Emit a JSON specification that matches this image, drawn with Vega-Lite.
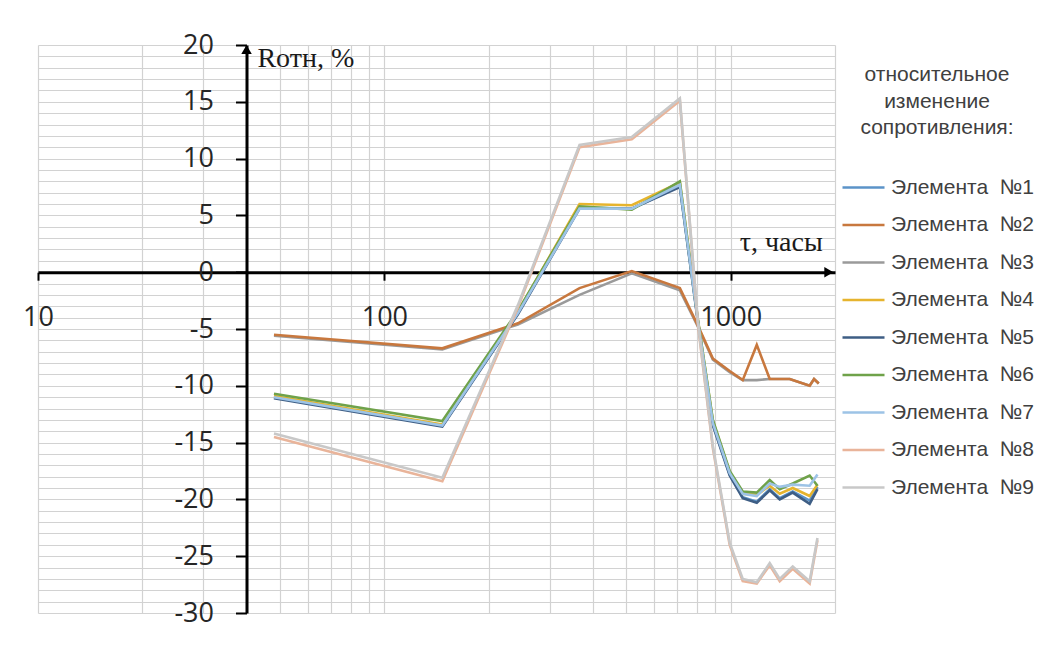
{
 "$schema": "https://vega.github.io/schema/vega-lite/v6.json",
 "width": 797, "height": 568,
 "autosize": {"type": "none"},
 "padding": {"left": 38, "top": 45, "right": 215, "bottom": 44},
 "background": "white",
 "config": {"view": {"stroke": null}},
 "layer": [
  {
   "data": {"values": [
    {"s":"Элемента\u00a0 №3","t":48,"r":-5.6},{"s":"Элемента\u00a0 №3","t":147,"r":-6.8},{"s":"Элемента\u00a0 №3","t":243,"r":-4.6},{"s":"Элемента\u00a0 №3","t":366,"r":-2.0},{"s":"Элемента\u00a0 №3","t":518,"r":-0.1},{"s":"Элемента\u00a0 №3","t":713,"r":-1.6},{"s":"Элемента\u00a0 №3","t":804,"r":-4.8},{"s":"Элемента\u00a0 №3","t":888,"r":-7.7},{"s":"Элемента\u00a0 №3","t":993,"r":-8.8},{"s":"Элемента\u00a0 №3","t":1083,"r":-9.5},{"s":"Элемента\u00a0 №3","t":1189,"r":-9.5},{"s":"Элемента\u00a0 №3","t":1296,"r":-9.4},{"s":"Элемента\u00a0 №3","t":1480,"r":-9.4},{"s":"Элемента\u00a0 №3","t":1690,"r":-10.0},{"s":"Элемента\u00a0 №3","t":1740,"r":-9.4},{"s":"Элемента\u00a0 №3","t":1795,"r":-9.8},
    {"s":"Элемента\u00a0 №1","t":48,"r":-11.0},{"s":"Элемента\u00a0 №1","t":147,"r":-13.5},{"s":"Элемента\u00a0 №1","t":243,"r":-3.6},{"s":"Элемента\u00a0 №1","t":366,"r":5.7},{"s":"Элемента\u00a0 №1","t":518,"r":5.6},{"s":"Элемента\u00a0 №1","t":713,"r":7.6},{"s":"Элемента\u00a0 №1","t":804,"r":-4.3},{"s":"Элемента\u00a0 №1","t":888,"r":-13.3},{"s":"Элемента\u00a0 №1","t":993,"r":-17.8},{"s":"Элемента\u00a0 №1","t":1083,"r":-19.8},{"s":"Элемента\u00a0 №1","t":1189,"r":-20.2},{"s":"Элемента\u00a0 №1","t":1296,"r":-19.1},{"s":"Элемента\u00a0 №1","t":1385,"r":-19.9},{"s":"Элемента\u00a0 №1","t":1510,"r":-19.3},{"s":"Элемента\u00a0 №1","t":1690,"r":-20.1},{"s":"Элемента\u00a0 №1","t":1780,"r":-18.9},
    {"s":"Элемента\u00a0 №2","t":48,"r":-5.5},{"s":"Элемента\u00a0 №2","t":147,"r":-6.7},{"s":"Элемента\u00a0 №2","t":243,"r":-4.5},{"s":"Элемента\u00a0 №2","t":366,"r":-1.4},{"s":"Элемента\u00a0 №2","t":518,"r":0.1},{"s":"Элемента\u00a0 №2","t":713,"r":-1.4},{"s":"Элемента\u00a0 №2","t":804,"r":-4.7},{"s":"Элемента\u00a0 №2","t":888,"r":-7.6},{"s":"Элемента\u00a0 №2","t":993,"r":-8.7},{"s":"Элемента\u00a0 №2","t":1083,"r":-9.5},{"s":"Элемента\u00a0 №2","t":1189,"r":-6.4},{"s":"Элемента\u00a0 №2","t":1296,"r":-9.4},{"s":"Элемента\u00a0 №2","t":1480,"r":-9.4},{"s":"Элемента\u00a0 №2","t":1690,"r":-10.0},{"s":"Элемента\u00a0 №2","t":1740,"r":-9.4},{"s":"Элемента\u00a0 №2","t":1795,"r":-9.8},
    {"s":"Элемента\u00a0 №4","t":48,"r":-10.9},{"s":"Элемента\u00a0 №4","t":147,"r":-13.4},{"s":"Элемента\u00a0 №4","t":243,"r":-3.5},{"s":"Элемента\u00a0 №4","t":366,"r":6.0},{"s":"Элемента\u00a0 №4","t":518,"r":5.9},{"s":"Элемента\u00a0 №4","t":713,"r":7.9},{"s":"Элемента\u00a0 №4","t":804,"r":-4.2},{"s":"Элемента\u00a0 №4","t":888,"r":-13.1},{"s":"Элемента\u00a0 №4","t":993,"r":-17.6},{"s":"Элемента\u00a0 №4","t":1083,"r":-19.5},{"s":"Элемента\u00a0 №4","t":1189,"r":-19.6},{"s":"Элемента\u00a0 №4","t":1296,"r":-18.8},{"s":"Элемента\u00a0 №4","t":1385,"r":-19.5},{"s":"Элемента\u00a0 №4","t":1510,"r":-19.0},{"s":"Элемента\u00a0 №4","t":1690,"r":-19.7},{"s":"Элемента\u00a0 №4","t":1780,"r":-18.7},
    {"s":"Элемента\u00a0 №5","t":48,"r":-11.1},{"s":"Элемента\u00a0 №5","t":147,"r":-13.6},{"s":"Элемента\u00a0 №5","t":243,"r":-3.7},{"s":"Элемента\u00a0 №5","t":366,"r":5.6},{"s":"Элемента\u00a0 №5","t":518,"r":5.6},{"s":"Элемента\u00a0 №5","t":713,"r":7.5},{"s":"Элемента\u00a0 №5","t":804,"r":-4.4},{"s":"Элемента\u00a0 №5","t":888,"r":-13.5},{"s":"Элемента\u00a0 №5","t":993,"r":-17.9},{"s":"Элемента\u00a0 №5","t":1083,"r":-19.9},{"s":"Элемента\u00a0 №5","t":1189,"r":-20.3},{"s":"Элемента\u00a0 №5","t":1296,"r":-19.2},{"s":"Элемента\u00a0 №5","t":1385,"r":-20.0},{"s":"Элемента\u00a0 №5","t":1510,"r":-19.4},{"s":"Элемента\u00a0 №5","t":1690,"r":-20.4},{"s":"Элемента\u00a0 №5","t":1780,"r":-19.1},
    {"s":"Элемента\u00a0 №6","t":48,"r":-10.7},{"s":"Элемента\u00a0 №6","t":147,"r":-13.1},{"s":"Элемента\u00a0 №6","t":243,"r":-3.4},{"s":"Элемента\u00a0 №6","t":366,"r":5.8},{"s":"Элемента\u00a0 №6","t":518,"r":5.5},{"s":"Элемента\u00a0 №6","t":713,"r":8.0},{"s":"Элемента\u00a0 №6","t":804,"r":-4.2},{"s":"Элемента\u00a0 №6","t":888,"r":-13.0},{"s":"Элемента\u00a0 №6","t":993,"r":-17.5},{"s":"Элемента\u00a0 №6","t":1083,"r":-19.3},{"s":"Элемента\u00a0 №6","t":1189,"r":-19.4},{"s":"Элемента\u00a0 №6","t":1296,"r":-18.3},{"s":"Элемента\u00a0 №6","t":1385,"r":-19.1},{"s":"Элемента\u00a0 №6","t":1510,"r":-18.6},{"s":"Элемента\u00a0 №6","t":1690,"r":-17.9},{"s":"Элемента\u00a0 №6","t":1780,"r":-18.8},
    {"s":"Элемента\u00a0 №7","t":48,"r":-11.0},{"s":"Элемента\u00a0 №7","t":147,"r":-13.5},{"s":"Элемента\u00a0 №7","t":243,"r":-3.6},{"s":"Элемента\u00a0 №7","t":366,"r":5.6},{"s":"Элемента\u00a0 №7","t":518,"r":5.6},{"s":"Элемента\u00a0 №7","t":713,"r":7.7},{"s":"Элемента\u00a0 №7","t":804,"r":-4.3},{"s":"Элемента\u00a0 №7","t":888,"r":-13.3},{"s":"Элемента\u00a0 №7","t":993,"r":-17.7},{"s":"Элемента\u00a0 №7","t":1083,"r":-19.5},{"s":"Элемента\u00a0 №7","t":1189,"r":-19.7},{"s":"Элемента\u00a0 №7","t":1296,"r":-18.6},{"s":"Элемента\u00a0 №7","t":1385,"r":-18.9},{"s":"Элемента\u00a0 №7","t":1510,"r":-18.7},{"s":"Элемента\u00a0 №7","t":1690,"r":-18.8},{"s":"Элемента\u00a0 №7","t":1780,"r":-17.8},
    {"s":"Элемента\u00a0 №8","t":48,"r":-14.5},{"s":"Элемента\u00a0 №8","t":147,"r":-18.4},{"s":"Элемента\u00a0 №8","t":243,"r":-3.1},{"s":"Элемента\u00a0 №8","t":366,"r":11.0},{"s":"Элемента\u00a0 №8","t":518,"r":11.7},{"s":"Элемента\u00a0 №8","t":713,"r":15.1},{"s":"Элемента\u00a0 №8","t":804,"r":-4.6},{"s":"Элемента\u00a0 №8","t":888,"r":-15.5},{"s":"Элемента\u00a0 №8","t":993,"r":-24.0},{"s":"Элемента\u00a0 №8","t":1083,"r":-27.2},{"s":"Элемента\u00a0 №8","t":1189,"r":-27.4},{"s":"Элемента\u00a0 №8","t":1296,"r":-25.8},{"s":"Элемента\u00a0 №8","t":1385,"r":-27.2},{"s":"Элемента\u00a0 №8","t":1510,"r":-26.1},{"s":"Элемента\u00a0 №8","t":1690,"r":-27.4},{"s":"Элемента\u00a0 №8","t":1780,"r":-23.6},
    {"s":"Элемента\u00a0 №9","t":48,"r":-14.2},{"s":"Элемента\u00a0 №9","t":147,"r":-18.1},{"s":"Элемента\u00a0 №9","t":243,"r":-2.9},{"s":"Элемента\u00a0 №9","t":366,"r":11.2},{"s":"Элемента\u00a0 №9","t":518,"r":11.9},{"s":"Элемента\u00a0 №9","t":713,"r":15.3},{"s":"Элемента\u00a0 №9","t":804,"r":-4.4},{"s":"Элемента\u00a0 №9","t":888,"r":-15.3},{"s":"Элемента\u00a0 №9","t":993,"r":-23.8},{"s":"Элемента\u00a0 №9","t":1083,"r":-27.0},{"s":"Элемента\u00a0 №9","t":1189,"r":-27.3},{"s":"Элемента\u00a0 №9","t":1296,"r":-25.6},{"s":"Элемента\u00a0 №9","t":1385,"r":-27.0},{"s":"Элемента\u00a0 №9","t":1510,"r":-25.9},{"s":"Элемента\u00a0 №9","t":1690,"r":-27.2},{"s":"Элемента\u00a0 №9","t":1780,"r":-23.4}
   ]},
   "mark": {"type": "line", "strokeWidth": 2.6, "clip": false},
   "encoding": {
    "x": {"field": "t", "type": "quantitative",
     "scale": {"type": "log", "domain": [10, 2000], "nice": false},
     "axis": {
      "orient": "bottom", "offset": -340.8, "title": null, "tickCount": 200,
      "values": [10,20,30,40,50,60,70,80,90,100,200,300,400,500,600,700,800,900,1000,2000],
      "grid": true, "gridColor": "#D2D2D2", "gridWidth": 1.2,
      "domainColor": "black", "domainWidth": 3,
      "tickColor": "black", "tickWidth": 2, "tickSize": 8,
      "tickOpacity": {"condition": {"test": "datum.value == 10 || datum.value == 100 || datum.value == 1000", "value": 1}, "value": 0},
      "labelExpr": "(datum.value == 10 || datum.value == 100 || datum.value == 1000) ? '' + datum.value : ''",
      "labelFont": "Open Sans", "labelFontSize": 27, "labelColor": "#262626", "labelPadding": 24,
      "labelOverlap": false, "labelFlush": false, "labelBound": false
     }
    },
    "y": {"field": "r", "type": "quantitative",
     "scale": {"domain": [-30, 20], "nice": false, "zero": false},
     "axis": {
      "orient": "left", "offset": -208.5, "title": null, "tickCount": 200,
      "values": [-30,-29,-28,-27,-26,-25,-24,-23,-22,-21,-20,-19,-18,-17,-16,-15,-14,-13,-12,-11,-10,-9,-8,-7,-6,-5,-4,-3,-2,-1,0,1,2,3,4,5,6,7,8,9,10,11,12,13,14,15,16,17,18,19,20],
      "grid": true, "gridColor": "#D2D2D2", "gridWidth": 1.2,
      "domainColor": "black", "domainWidth": 3,
      "tickColor": "black", "tickWidth": 2, "tickSize": 11,
      "tickOpacity": {"condition": {"test": "datum.value % 5 === 0", "value": 1}, "value": 0},
      "labelExpr": "datum.value % 5 === 0 ? '' + datum.value : ''",
      "labelFont": "Open Sans", "labelFontSize": 27, "labelColor": "#262626", "labelPadding": 22,
      "labelOverlap": false, "labelFlush": false, "labelBound": false
     }
    },
    "color": {"field": "s", "type": "nominal",
     "scale": {
      "domain": ["Элемента\u00a0 №1","Элемента\u00a0 №2","Элемента\u00a0 №3","Элемента\u00a0 №4","Элемента\u00a0 №5","Элемента\u00a0 №6","Элемента\u00a0 №7","Элемента\u00a0 №8","Элемента\u00a0 №9"],
      "range": ["#5B93C8","#C8783E","#9A9A9A","#E6B42E","#3E5E85","#6FA24A","#9DC3E6","#E9B49A","#C8C8C8"]
     },
     "legend": {
      "orient": "none", "legendX": 803, "legendY": 19,
      "title": ["относительное", "изменение", "сопротивления:"],
      "titleFont": "Liberation Sans", "titleFontSize": 21, "titleFontWeight": "normal", "titleColor": "#404040",
      "titleLineHeight": 26.5, "titleAlign": "center", "titleAnchor": "middle", "titlePadding": 27,
      "labelFont": "Liberation Sans", "labelFontSize": 21, "labelColor": "#404040", "labelOffset": 5, "labelLimit": 300,
      "symbolType": "stroke", "symbolSize": 1764, "symbolStrokeWidth": 2.5, "rowPadding": 4.5
     }
    }
   }
  },
  {
   "data": {"values": [{}]},
   "mark": {"type": "point", "shape": "triangle-up", "filled": true, "color": "black", "size": 110, "opacity": 1},
   "encoding": {"x": {"datum": 40}, "y": {"datum": 19.6}}
  },
  {
   "data": {"values": [{}]},
   "mark": {"type": "point", "shape": "triangle-right", "filled": true, "color": "black", "size": 110, "opacity": 1},
   "encoding": {"x": {"datum": 1920}, "y": {"datum": 0}}
  },
  {
   "data": {"values": [{}]},
   "mark": {"type": "text", "text": "Rотн, %", "font": "Liberation Serif", "fontSize": 28, "align": "left", "baseline": "alphabetic", "color": "#1a1a1a"},
   "encoding": {"x": {"datum": 43}, "y": {"datum": 18.1}}
  },
  {
   "data": {"values": [{}]},
   "mark": {"type": "text", "text": "τ, часы", "font": "Liberation Serif", "fontSize": 28, "align": "left", "baseline": "alphabetic", "color": "#1a1a1a"},
   "encoding": {"x": {"datum": 1062}, "y": {"datum": 1.85}}
  }
 ]
}
